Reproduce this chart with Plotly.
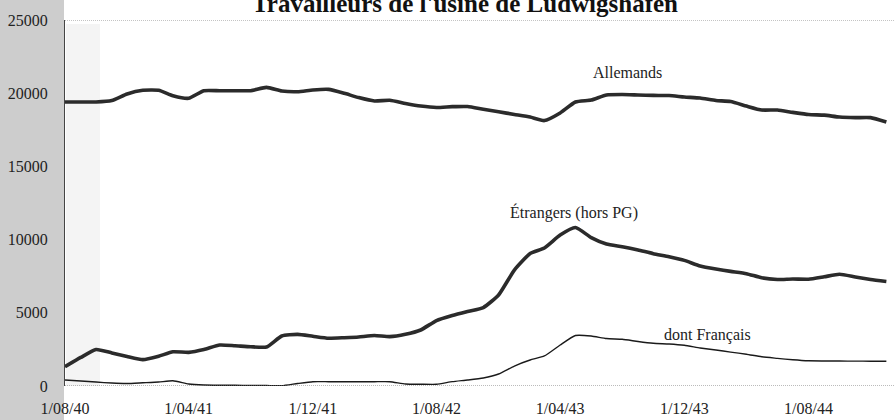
import pandas as pd
import plotly.graph_objects as go

# ---- data (monthly, from 1/08/40) ----
months = pd.date_range(start="1940-08-01", periods=54, freq="MS")

allemands = [19400, 19400, 19400, 19500, 19950, 20200, 20200, 19830, 19650, 20170,
             20170, 20170, 20170, 20400, 20150, 20100, 20220, 20260, 19990, 19700,
             19470, 19520, 19300, 19120, 19020, 19080, 19090, 18900, 18730, 18550,
             18370, 18130, 18650, 19400, 19530, 19880, 19910, 19880, 19850, 19840,
             19740, 19670, 19500, 19430, 19120, 18850, 18850, 18690, 18540, 18500,
             18370, 18330, 18330, 18030]

etrangers = [1320, 1950, 2490, 2260, 2015, 1800, 2035, 2340, 2300, 2490,
             2800, 2750, 2680, 2660, 3415, 3525, 3395, 3260, 3300, 3350,
             3450, 3370, 3530, 3825, 4470, 4815, 5090, 5360, 6215, 7920,
             9050, 9425, 10310, 10825, 10140, 9700, 9515, 9290, 9040, 8825,
             8580, 8200, 7990, 7830, 7675, 7390, 7275, 7310, 7295, 7460,
             7630, 7450, 7280, 7140]

francais = [410, 340, 270, 200, 170, 220, 270, 360, 140, 70,
            55, 50, 35, 30, 20, 170, 295, 295, 295, 295,
            295, 295, 140, 120, 115, 295, 410, 550, 820, 1365,
            1775, 2050, 2800, 3450, 3415, 3240, 3190, 3040, 2920, 2870,
            2780, 2600, 2460, 2315, 2170, 1995, 1890, 1790, 1720, 1710,
            1705, 1700, 1695, 1690]

tick_dates = ["1940-08-01", "1941-04-01", "1941-12-01", "1942-08-01",
              "1943-04-01", "1943-12-01", "1944-08-01"]
tick_labels = ["1/08/40", "1/04/41", "1/12/41", "1/08/42",
               "1/04/43", "1/12/43", "1/08/44"]
y_ticks = [0, 5000, 10000, 15000, 20000, 25000]

title_text = "Travailleurs de l'usine de Ludwigshafen"
series_labels = ["Allemands", "Étrangers (hors PG)", "dont Français"]

# ---- figure ----
W, H = 894, 420
L, R, T, B = 65, 0, 20, 34
pw, ph = W - L - R, H - T - B

def px(x):
    return (x - L) / pw

def py(y):
    return (H - B - y) / ph

SERIF = "Liberation Serif"

fig = go.Figure()
fig.add_trace(go.Scatter(x=months, y=allemands, mode="lines", name=series_labels[0],
                         line=dict(color="#2b2b2b", width=3.6, shape="spline", smoothing=0.5)))
fig.add_trace(go.Scatter(x=months, y=etrangers, mode="lines", name=series_labels[1],
                         line=dict(color="#2b2b2b", width=3.6, shape="spline", smoothing=0.5)))
fig.add_trace(go.Scatter(x=months, y=francais, mode="lines", name=series_labels[2],
                         line=dict(color="#1a1a1a", width=1.4, shape="spline", smoothing=0.5)))

label_pos = [(627, 72), (574, 212), (707, 335)]
annotations = []
for text, (ax, ay) in zip(series_labels, label_pos):
    annotations.append(dict(text=text, x=px(ax), y=py(ay), xref="paper", yref="paper",
                            showarrow=False, xanchor="center", yanchor="middle",
                            font=dict(family=SERIF, size=16, color="#222222")))
annotations.append(dict(text="<b>" + title_text + "</b>", x=px(465), y=py(4),
                        xref="paper", yref="paper", showarrow=False,
                        xanchor="center", yanchor="middle",
                        font=dict(family=SERIF, size=25, color="#111111")))

shapes = [
    # scanned page shadow in left margin
    dict(type="rect", xref="paper", yref="paper", x0=px(0), x1=px(64), y0=py(H), y1=py(0),
         fillcolor="#cdcdcd", line=dict(width=0), layer="below"),
    dict(type="rect", xref="paper", yref="paper", x0=px(66), x1=px(100), y0=py(386), y1=py(24),
         fillcolor="#f4f4f4", line=dict(width=0), layer="below"),
    # top border and bottom axis (dotted)
    dict(type="line", xref="paper", yref="y", x0=0, x1=1, y0=25000, y1=25000,
         line=dict(color="#8a8a8a", width=1, dash="1px,1px")),
    dict(type="line", xref="paper", yref="y", x0=0, x1=1, y0=0, y1=0,
         line=dict(color="#777777", width=1, dash="1px,1px")),
]

fig.update_layout(
    width=W, height=H,
    margin=dict(l=L, r=R, t=T, b=B),
    paper_bgcolor="white", plot_bgcolor="white",
    showlegend=False,
    annotations=annotations,
    shapes=shapes,
    font=dict(family=SERIF, size=16, color="#222222"),
)
fig.update_xaxes(type="date", range=["1940-08-01", "1945-01-16"],
                 tickvals=tick_dates, ticktext=tick_labels,
                 showgrid=False, zeroline=False, showline=False,
                 ticks="outside", ticklen=8, tickcolor="rgba(0,0,0,0)",
                 tickfont=dict(family=SERIF, size=16, color="#222222"))
fig.update_yaxes(range=[0, 25000], tickvals=y_ticks, ticktext=[str(v) for v in y_ticks],
                 showgrid=False, zeroline=False,
                 showline=True, linecolor="#444444", linewidth=1,
                 ticks="outside", ticklen=13, tickcolor="rgba(0,0,0,0)",
                 tickfont=dict(family=SERIF, size=16, color="#222222"))

fig.write_html("out.html", config={"displayModeBar": False},
               post_script="document.body.style.margin='0';document.body.style.overflow='hidden';")
